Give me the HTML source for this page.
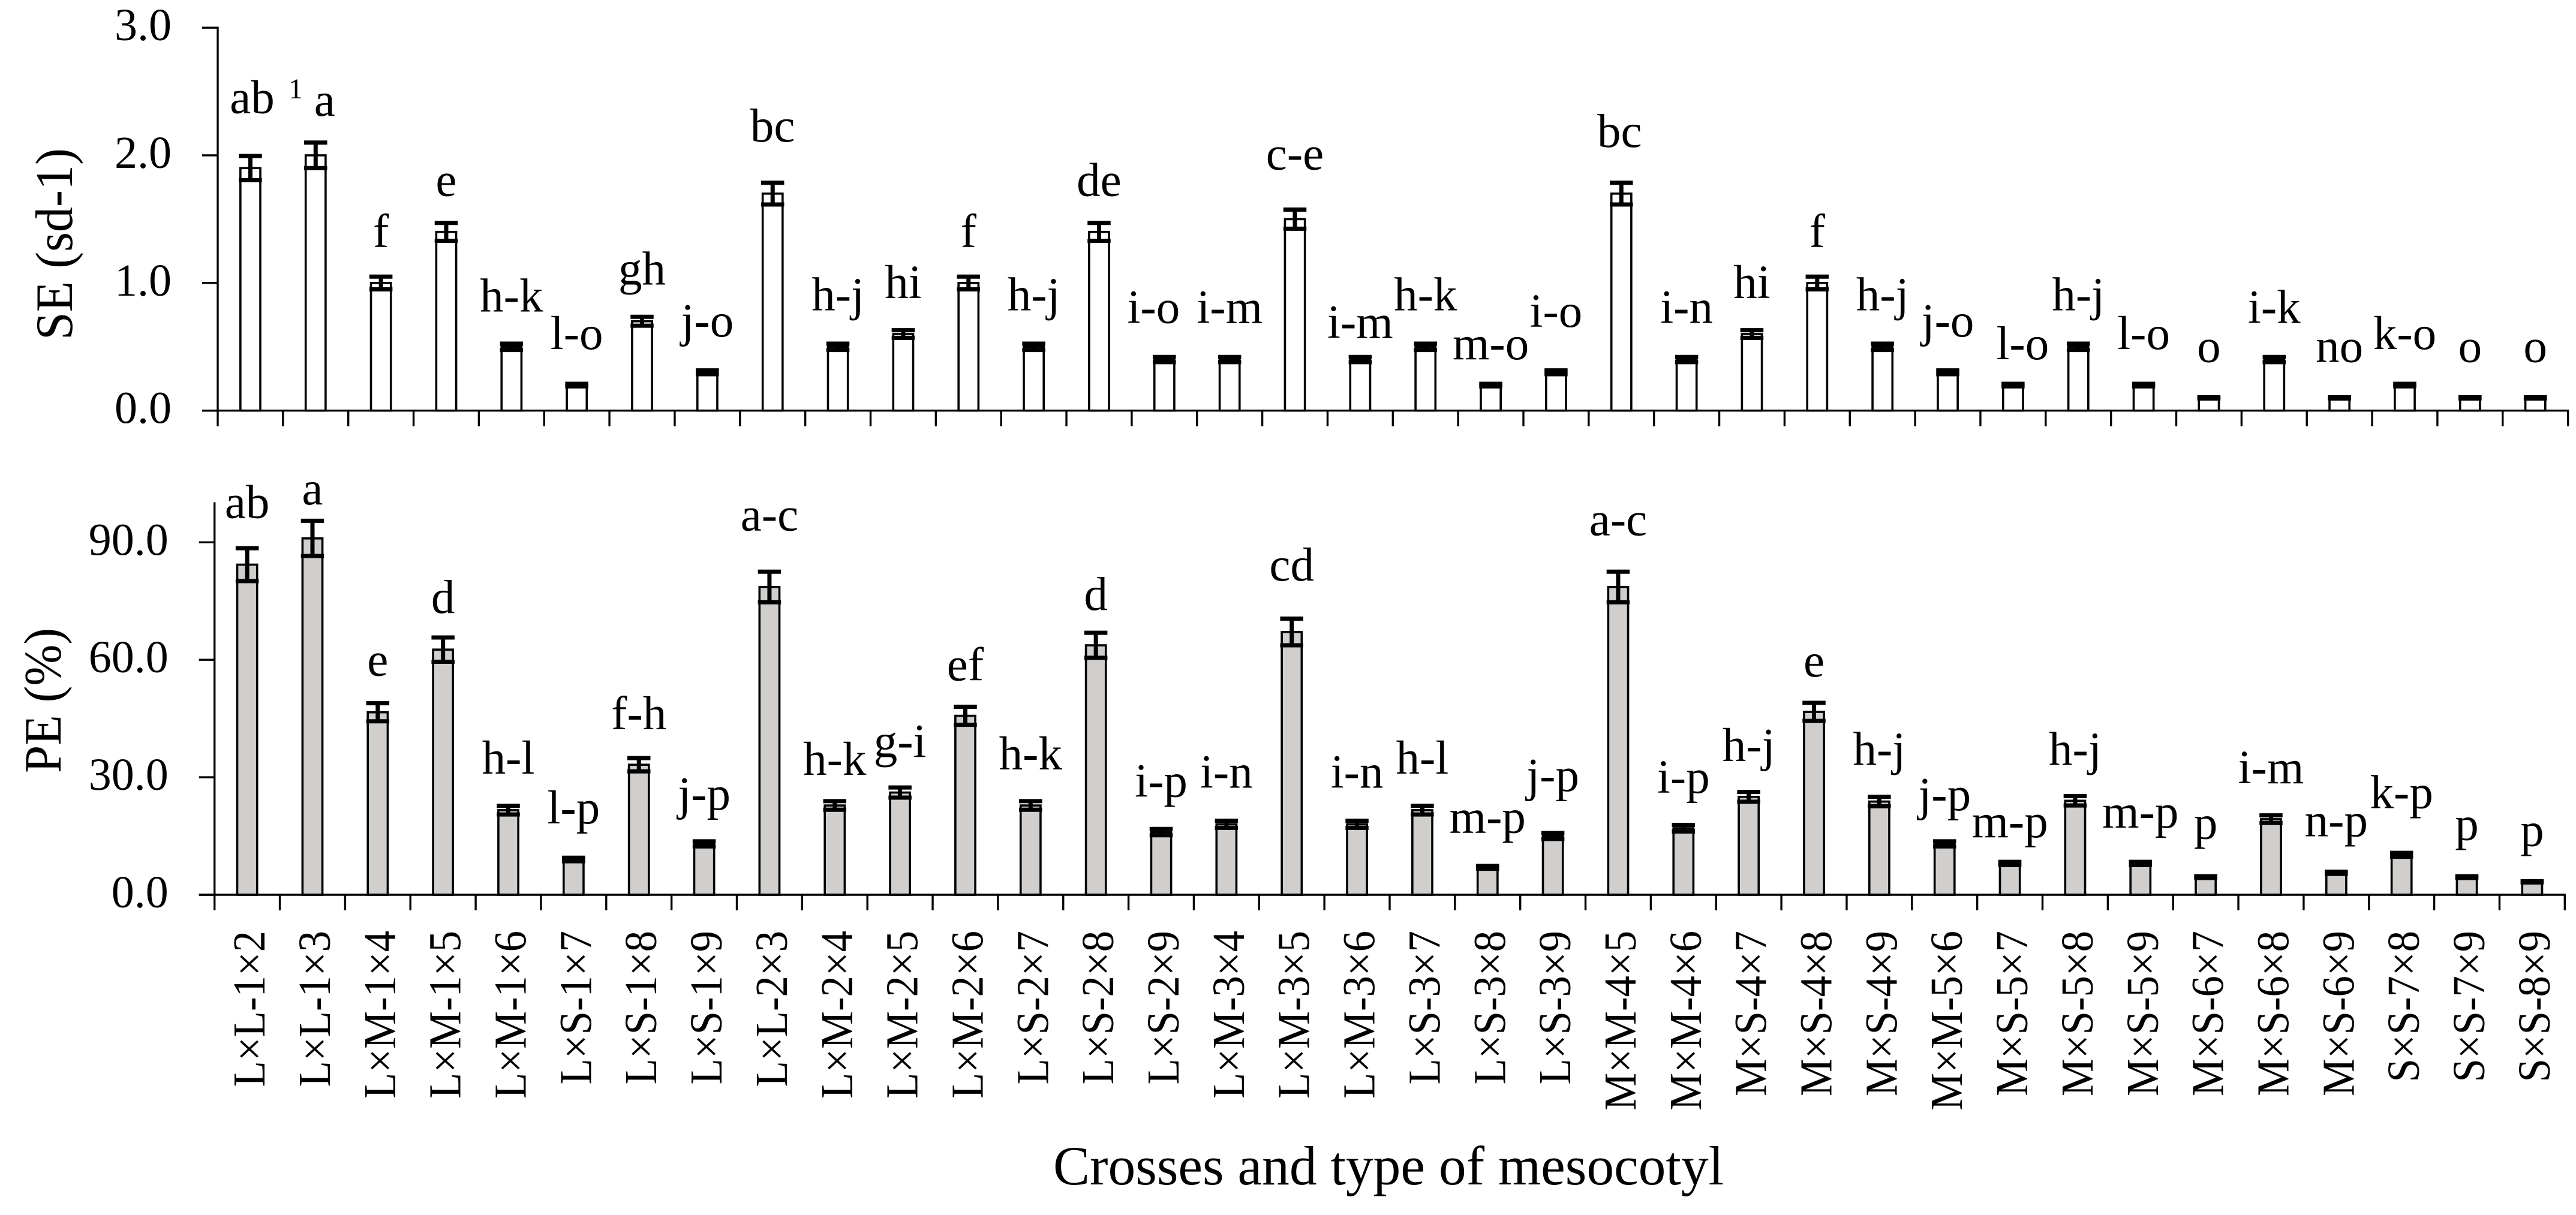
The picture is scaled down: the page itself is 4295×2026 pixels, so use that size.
<!DOCTYPE html>
<html lang="en">
<head>
<meta charset="utf-8">
<title>SE and PE by cross and type of mesocotyl</title>
<style>
html,body{margin:0;padding:0;background:#fff;}
body{width:4295px;height:2026px;overflow:hidden;}
svg{display:block;}
text{font-family:"Liberation Serif","Noto Serif CJK SC",serif;fill:#000;}
</style>
</head>
<body>
<svg id="chart" xmlns="http://www.w3.org/2000/svg" width="4295" height="2026" viewBox="0 0 4295 2026">
  <rect x="0" y="0" width="4295" height="2026" fill="#ffffff"/>
  <text transform="translate(120,407) rotate(-90)" text-anchor="middle" font-size="88" textLength="320" lengthAdjust="spacingAndGlyphs">SE (sd-1)</text>
  <text transform="translate(101,1168) rotate(-90)" text-anchor="middle" font-size="88" textLength="242" lengthAdjust="spacingAndGlyphs">PE (%)</text>
  <text x="2315" y="1975" text-anchor="middle" font-size="92" textLength="1118" lengthAdjust="spacingAndGlyphs">Crosses and type of mesocotyl</text>
  <text x="493" y="164" text-anchor="middle" font-size="48">1</text>
  <g id="se-panel"></g>
  <g id="pe-panel"></g>
  <g id="x-labels"></g>
</svg>
<script>
const crosses = ["L×L-1×2","L×L-1×3","L×M-1×4","L×M-1×5","L×M-1×6","L×S-1×7","L×S-1×8","L×S-1×9","L×L-2×3","L×M-2×4","L×M-2×5","L×M-2×6","L×S-2×7","L×S-2×8","L×S-2×9","L×M-3×4","L×M-3×5","L×M-3×6","L×S-3×7","L×S-3×8","L×S-3×9","M×M-4×5","M×M-4×6","M×S-4×7","M×S-4×8","M×S-4×9","M×M-5×6","M×S-5×7","M×S-5×8","M×S-5×9","M×S-6×7","M×S-6×8","M×S-6×9","S×S-7×8","S×S-7×9","S×S-8×9"];

const seValues = [1.9,2.0,1.0,1.4,0.5,0.2,0.7,0.3,1.7,0.5,0.6,1.0,0.5,1.4,0.4,0.4,1.5,0.4,0.5,0.2,0.3,1.7,0.4,0.6,1.0,0.5,0.3,0.2,0.5,0.2,0.1,0.4,0.1,0.2,0.1,0.1];
const seErrors = [0.095,0.1,0.05,0.07,0.025,0.01,0.035,0.015,0.085,0.025,0.03,0.05,0.025,0.07,0.02,0.02,0.075,0.02,0.025,0.01,0.015,0.085,0.02,0.03,0.05,0.025,0.015,0.01,0.025,0.01,0.005,0.02,0.005,0.01,0.005,0.005];
const seLetters = ["ab","a","f","e","h-k","l-o","gh","j-o","bc","h-j","hi","f","h-j","de","i-o","i-m","c-e","i-m","h-k","m-o","i-o","bc","i-n","hi","f","h-j","j-o","l-o","h-j","l-o","o","i-k","no","k-o","o","o"];
const seTicks = [0,1,2,3];
const seTickLabels = ["0.0","1.0","2.0","3.0"];

const peValues = [84.3,91,46.6,62.6,21.6,9,33.2,13,78.6,22.8,26.1,45.7,22.8,63.7,16,18,67.1,18,21.6,7,15,78.6,17,25,46.7,23.8,13,8,24,8,4.5,19.3,5.6,10.2,4.5,3.3];
const peErrors = [4.2,4.5,2.3,3.1,1.1,0.45,1.7,0.65,3.9,1.1,1.3,2.3,1.1,3.2,0.8,0.9,3.4,0.9,1.1,0.35,0.75,3.9,0.85,1.25,2.3,1.2,0.65,0.4,1.2,0.4,0.22,0.97,0.28,0.5,0.22,0.17];
const peLetters = ["ab","a","e","d","h-l","l-p","f-h","j-p","a-c","h-k","g-i","ef","h-k","d","i-p","i-n","cd","i-n","h-l","m-p","j-p","a-c","i-p","h-j","e","h-j","j-p","m-p","h-j","m-p","p","i-m","n-p","k-p","p","p"];
const peTicks = [0,30,60,90];
const peTickLabels = ["0.0","30.0","60.0","90.0"];

/* annotation layout: distance from bar top to the letter baseline, and sideways nudges */
const seLetterLift = [92,66,60,60,59,60,61,60,87,61,60,60,61,60,61,61,83,36,61,43,76,78,61,60,60,61,60,43,61,60,60,61,60,60,60,60];
const seLetterNudge = {0:3,1:15,14:-18,21:-3,27:16};
const peLetterLift = [78,57,61,61,61,60,59,57,94,51,59,59,60,59,59,61,86,61,61,58,75,86,59,60,59,61,56,44,60,60,64,60,61,78,62,60];
const peLetterNudge = {};

const NS = "http://www.w3.org/2000/svg";
const STEP = 108.85;
const BAR_W = 33.2, BAR_STROKE = 3.6, CAP_W = 38.5, CAP_T = 7, ERR_W = 7, AXIS_W = 3.4, TICK = 26;

function make(parent, tag, attrs) {
  const n = document.createElementNS(NS, tag);
  for (const k in attrs) n.setAttribute(k, attrs[k]);
  parent.appendChild(n);
  return n;
}

function drawPanel(parent, cfg) {
  const xPos = i => cfg.x0 + STEP * i;
  const barX = i => cfg.x0 + STEP * (i + 0.5);
  const yPos = v => cfg.y0 - cfg.unit * v;
  const right = xPos(crosses.length);

  cfg.values.forEach((v, i) => {
    const bar = make(parent, "rect", {x: barX(i) - BAR_W / 2, y: yPos(v), width: BAR_W, height: cfg.y0 - yPos(v), fill: cfg.fill, stroke: "#000", "stroke-width": BAR_STROKE});
    
    
    const top = yPos(v + cfg.errors[i]), low = yPos(v - cfg.errors[i]);
    const stem = make(parent, "line", {x1: barX(i), x2: barX(i), y1: top, y2: low, stroke: "#000", "stroke-width": ERR_W});
    
    
    [top, low].forEach(cy => {
      const cap = make(parent, "line", {x1: barX(i) - CAP_W / 2, x2: barX(i) + CAP_W / 2, y1: cy, y2: cy, stroke: "#000", "stroke-width": CAP_T});
      
      
    });
    const letter = make(parent, "text", {x: barX(i) + (cfg.nudge[i] || 0), y: yPos(v) - cfg.lift[i], "text-anchor": "middle", "font-size": 79});
    letter.textContent = cfg.letters[i];
    
    
  });

  const yAxis = make(parent, "line", {x1: cfg.x0, x2: cfg.x0, y1: yPos(cfg.max) - 1.5, y2: cfg.y0 + TICK, stroke: "#000", "stroke-width": AXIS_W});
  
  
  const xAxis = make(parent, "line", {x1: cfg.x0 - TICK, x2: right + 1.5, y1: cfg.y0, y2: cfg.y0, stroke: "#000", "stroke-width": AXIS_W});
  
  

  cfg.ticks.forEach((t, i) => {
    const tick = make(parent, "line", {x1: cfg.x0 - TICK, x2: cfg.x0, y1: yPos(t), y2: yPos(t), stroke: "#000", "stroke-width": AXIS_W});
    
    
    const lab = make(parent, "text", {x: cfg.x0 - 77, y: yPos(t) + 21, "text-anchor": "end", "font-size": 76});
    lab.textContent = cfg.tickLabels[i];
    
    
  });

  for (let i = 1; i <= crosses.length; i++) {
    const tick = make(parent, "line", {x1: xPos(i), x2: xPos(i), y1: cfg.y0, y2: cfg.y0 + TICK, stroke: "#000", "stroke-width": AXIS_W});
    
    
  }
}

drawPanel(document.getElementById("se-panel"), {
  x0: 363, y0: 684.7, unit: 212.85, max: 3, fill: "#ffffff",
  values: seValues, errors: seErrors, letters: seLetters, lift: seLetterLift, nudge: seLetterNudge,
  ticks: seTicks, tickLabels: seTickLabels
});
drawPanel(document.getElementById("pe-panel"), {
  x0: 357.7, y0: 1492, unit: 6.53, max: 100, fill: "#d0cfcd",
  values: peValues, errors: peErrors, letters: peLetters, lift: peLetterLift, nudge: peLetterNudge,
  ticks: peTicks, tickLabels: peTickLabels
});

const xLabelGroup = document.getElementById("x-labels");
crosses.forEach((c, i) => {
  const cx = 357.7 + STEP * (i + 0.5) + 29;
  const lab = make(xLabelGroup, "text", {transform: "translate(" + cx + ",1552) rotate(-90) scale(0.93,1)", "text-anchor": "end", "font-size": 76});
  lab.textContent = c;
  
  
});
</script>
</body>
</html>
